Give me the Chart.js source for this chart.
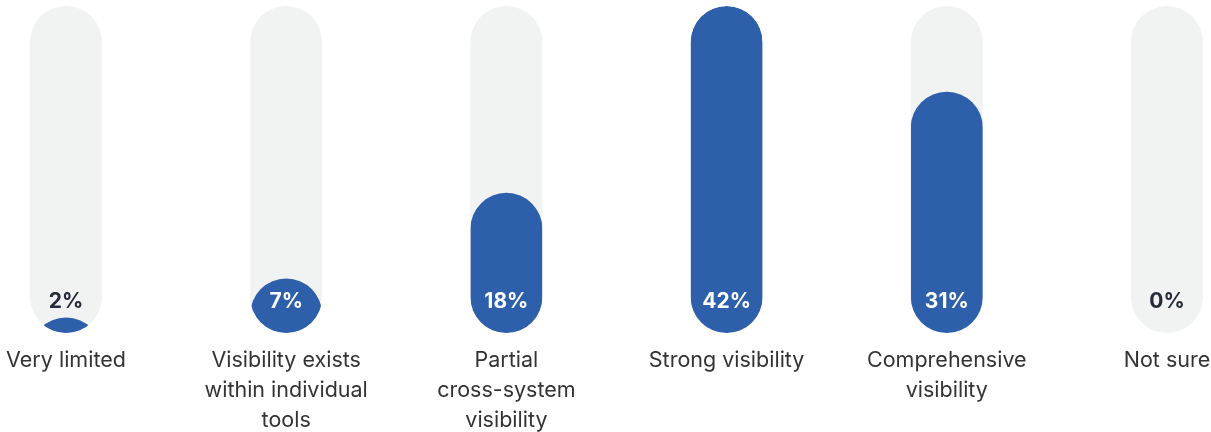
<!DOCTYPE html>
<html lang="en">
<head>
    <meta charset="UTF-8">
    <title>Visibility</title>
    <script src="https://cdn.jsdelivr.net/npm/chart.js"></script>
    <style>
        html, body { margin: 0; padding: 0; background: #ffffff; }
        .wrap { width: 1211px; height: 432px; position: relative; }
    </style>
</head>
<body>
    <div class="wrap">
        <canvas id="visChart"></canvas>
    </div>

    <script>
        // categories (multi-line like the picture)
        const categories = [
            ["Very limited"],
            ["Visibility exists", "within individual", "tools"],
            ["Partial", "cross-system", "visibility"],
            ["Strong visibility"],
            ["Comprehensive", "visibility"],
            ["Not sure"]
        ];
        const percentValues = [2, 7, 18, 42, 31, 0];

        const blue = "#2e5faa";
        const track = "#f1f3f3";
        const darkText = "#262b3b";

        // grey pill behind each bar, blue bar clipped into the pill
        const pillPlugin = {
            id: "pills",
            beforeDatasetDraw(chart, args) {
                const ctx = chart.ctx;
                const yScale = chart.scales.y;
                const top = yScale.getPixelForValue(yScale.max);
                const bottom = yScale.getPixelForValue(0);
                args.meta.data.forEach(function(bar) {
                    const r = bar.width / 2;
                    ctx.save();
                    ctx.beginPath();
                    ctx.roundRect(bar.x - r, top, bar.width, bottom - top, r);
                    ctx.fillStyle = track;
                    ctx.fill();
                    ctx.clip();
                    if (bar.base - bar.y > 0.5) {
                        ctx.beginPath();
                        ctx.arc(bar.x, bar.y + r, r, Math.PI, 0);
                        ctx.lineTo(bar.x + r, bottom + 1);
                        ctx.lineTo(bar.x - r, bottom + 1);
                        ctx.closePath();
                        ctx.fillStyle = blue;
                        ctx.fill();
                    }
                    ctx.restore();
                });
                return false;
            },
            afterDatasetsDraw(chart) {
                const ctx = chart.ctx;
                const meta = chart.getDatasetMeta(0);
                const bottom = chart.scales.y.getPixelForValue(0);
                ctx.save();
                ctx.font = "700 21px Inter";
                ctx.textAlign = "center";
                ctx.textBaseline = "middle";
                meta.data.forEach(function(bar, i) {
                    const ly = bottom - 31;
                    ctx.fillStyle = bar.y < ly - 12 ? "#ffffff" : darkText;
                    ctx.fillText(percentValues[i] + "%", bar.x, ly);
                });
                ctx.restore();
            }
        };

        new Chart(document.getElementById("visChart"), {
            type: "bar",
            data: {
                labels: categories,
                datasets: [{
                    data: percentValues,
                    backgroundColor: blue,
                    barThickness: 72,
                    clip: false
                }]
            },
            options: {
                responsive: true,
                maintainAspectRatio: false,
                animation: false,
                layout: {
                    padding: { left: 66, right: 44, top: 6, bottom: 0 }
                },
                plugins: {
                    legend: { display: false },
                    tooltip: { enabled: false }
                },
                scales: {
                    x: {
                        offset: false,
                        grid: { display: false, drawTicks: false },
                        border: { display: false },
                        afterFit: function(scale) {
                            scale.height = 99;
                            // labels may hang past the plot edges
                            scale.paddingLeft = 0;
                            scale.paddingRight = 0;
                        },
                        ticks: {
                            autoSkip: false,
                            maxRotation: 0,
                            padding: 13,
                            color: "#333333",
                            font: { family: "Inter", size: 21.5, lineHeight: 1.38 }
                        }
                    },
                    y: {
                        display: false,
                        min: 0,
                        max: Math.max(...percentValues)
                    }
                }
            },
            plugins: [pillPlugin]
        });
    </script>
</body>
</html>
